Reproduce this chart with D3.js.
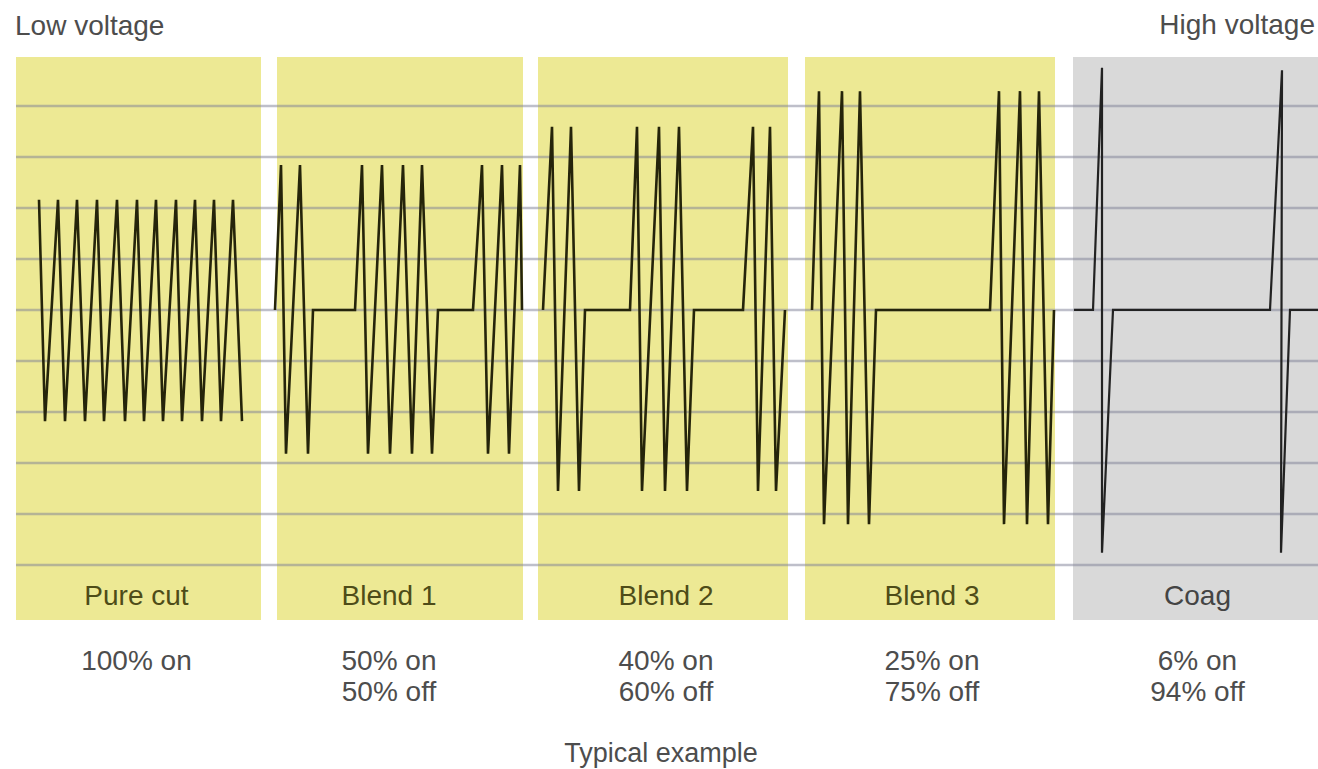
<!DOCTYPE html>
<html>
<head>
<meta charset="utf-8">
<script src="https://cdn.jsdelivr.net/npm/d3@7/dist/d3.min.js"></script>
<style>
  body { margin: 0; background: #fff; }
  svg { display: block; }
  text { font-family: "Liberation Sans", Arial, sans-serif; }
</style>
</head>
<body>
<div id="app"></div>
<script>
// modes and duty cycles
const modes = ['Pure cut', 'Blend 1', 'Blend 2', 'Blend 3', 'Coag'];
const dutyOn = ['100% on', '50% on', '40% on', '25% on', '6% on'];
const dutyOff = ['', '50% off', '60% off', '75% off', '94% off'];
// time span of each panel (time units)
const spans = [[16, 261], [277, 523], [538, 788], [805, 1055], [1073, 1318]];
// horizontal reference levels (volts)
const gridVolts = [4, 3, 2, 1, 0, -1, -2, -3, -4, -5];

// waveform vertices [time, volts]
const pureCut = [[39, 2.16], [45, -2.18], [58, 2.16], [65, -2.18], [77, 2.16], [85, -2.18],
  [97, 2.16], [104, -2.18], [117, 2.16], [125, -2.18], [137, 2.16], [144, -2.18],
  [156, 2.16], [163, -2.18], [176, 2.16], [182, -2.18], [195, 2.16], [202, -2.18],
  [214, 2.16], [221, -2.18], [233, 2.16], [242, -2.18]];
const blend1 = [[275, 0], [281, 2.84], [286, -2.82], [300, 2.84], [308, -2.82], [313, 0],
  [355, 0], [362, 2.84], [368, -2.82], [382, 2.84], [390, -2.82], [403, 2.84], [412, -2.82],
  [422, 2.84], [432, -2.82], [438, 0], [473, 0], [482, 2.84], [488, -2.82], [502, 2.84],
  [509, -2.82], [520, 2.84], [522, 0]];
const blend2 = [[543, 0], [552, 3.59], [558, -3.55], [571, 3.59], [579, -3.55], [585, 0],
  [630, 0], [637, 3.59], [642, -3.55], [659, 3.59], [665, -3.55], [679, 3.59], [687, -3.55],
  [694, 0], [743, 0], [753, 3.59], [758, -3.55], [770, 3.59], [776, -3.55], [785, 0]];
const blend3 = [[812, 0], [819, 4.29], [824, -4.2], [842, 4.29], [848, -4.2], [860, 4.29],
  [869, -4.2], [876, 0], [990, 0], [999, 4.29], [1004, -4.2], [1020, 4.29], [1027, -4.2],
  [1039, 4.29], [1048, -4.2], [1054, 0]];
const coag = [[1074, 0], [1093, 0], [1102, 4.75], [1102, -4.76], [1113, 0], [1270, 0],
  [1282, 4.7], [1281, -4.76], [1290, 0], [1318, 0]];
const waves = [pureCut, blend1, blend2, blend3, coag];

const width = 1318, height = 769;
const x = d3.scaleLinear().domain([0, 1318]).range([0, width]);
const y = d3.scaleLinear().domain([-6.08, 4.96]).range([620, 57]);
// small horizontal nudges of the text under each panel
const labelShift = [-2, -11, 3, 2, 2];

const svg = d3.select('#app').append('svg').attr('width', width).attr('height', height);

// panels
svg.append('g').selectAll('rect')
  .data(spans)
  .enter()
  .append('rect')
  .attr('x', d => x(d[0]))
  .attr('width', d => x(d[1]) - x(d[0]))
  .attr('y', y(4.96))
  .attr('height', y(-6.08) - y(4.96))
  .attr('fill', (d, i) => i === 4 ? '#d9d9d9' : '#ede994');

// reference lines
svg.append('g').selectAll('line')
  .data(gridVolts)
  .enter()
  .append('line')
  .attr('x1', x(16))
  .attr('x2', x(1318))
  .attr('y1', d => y(d))
  .attr('y2', d => y(d))
  .attr('stroke', 'rgba(125,127,150,0.5)')
  .attr('stroke-width', 2.5);

// waveforms
const line = d3.line().x(d => x(d[0])).y(d => y(d[1]));
svg.append('g').selectAll('path')
  .data(waves)
  .enter()
  .append('path')
  .attr('d', line)
  .attr('fill', 'none')
  .attr('stroke', (d, i) => i === 4 ? '#222' : '#25240a')
  .attr('stroke-width', (d, i) => i === 4 ? 2.2 : 2.6)
  .attr('stroke-linejoin', 'miter')
  .attr('stroke-miterlimit', 4);

// panel labels
const mid = (d, i) => x((d[0] + d[1]) / 2) + labelShift[i];
svg.append('g').selectAll('text')
  .data(spans)
  .enter()
  .append('text')
  .attr('x', mid)
  .attr('y', 605)
  .attr('text-anchor', 'middle')
  .attr('font-size', '28px')
  .attr('fill', (d, i) => i === 4 ? '#444' : '#4e4c18')
  .text((d, i) => modes[i]);

// duty cycle labels
const duty = svg.append('g').attr('fill', '#4d4d4d').attr('font-size', '28px').attr('text-anchor', 'middle');
duty.selectAll('.on')
  .data(spans)
  .enter()
  .append('text')
  .attr('x', mid)
  .attr('y', 670)
  .text((d, i) => dutyOn[i]);
duty.selectAll('.off')
  .data(spans)
  .enter()
  .append('text')
  .attr('x', mid)
  .attr('y', 701)
  .text((d, i) => dutyOff[i]);

// titles
svg.append('text').attr('x', 15).attr('y', 35).attr('font-size', '28px').attr('fill', '#4d4d4d')
  .text('Low voltage');
svg.append('text').attr('x', 1315).attr('y', 34).attr('font-size', '28px').attr('fill', '#4d4d4d')
  .attr('text-anchor', 'end').text('High voltage');
svg.append('text').attr('x', 661).attr('y', 762).attr('font-size', '27px').attr('fill', '#4d4d4d')
  .attr('text-anchor', 'middle').text('Typical example');
</script>
</body>
</html>
